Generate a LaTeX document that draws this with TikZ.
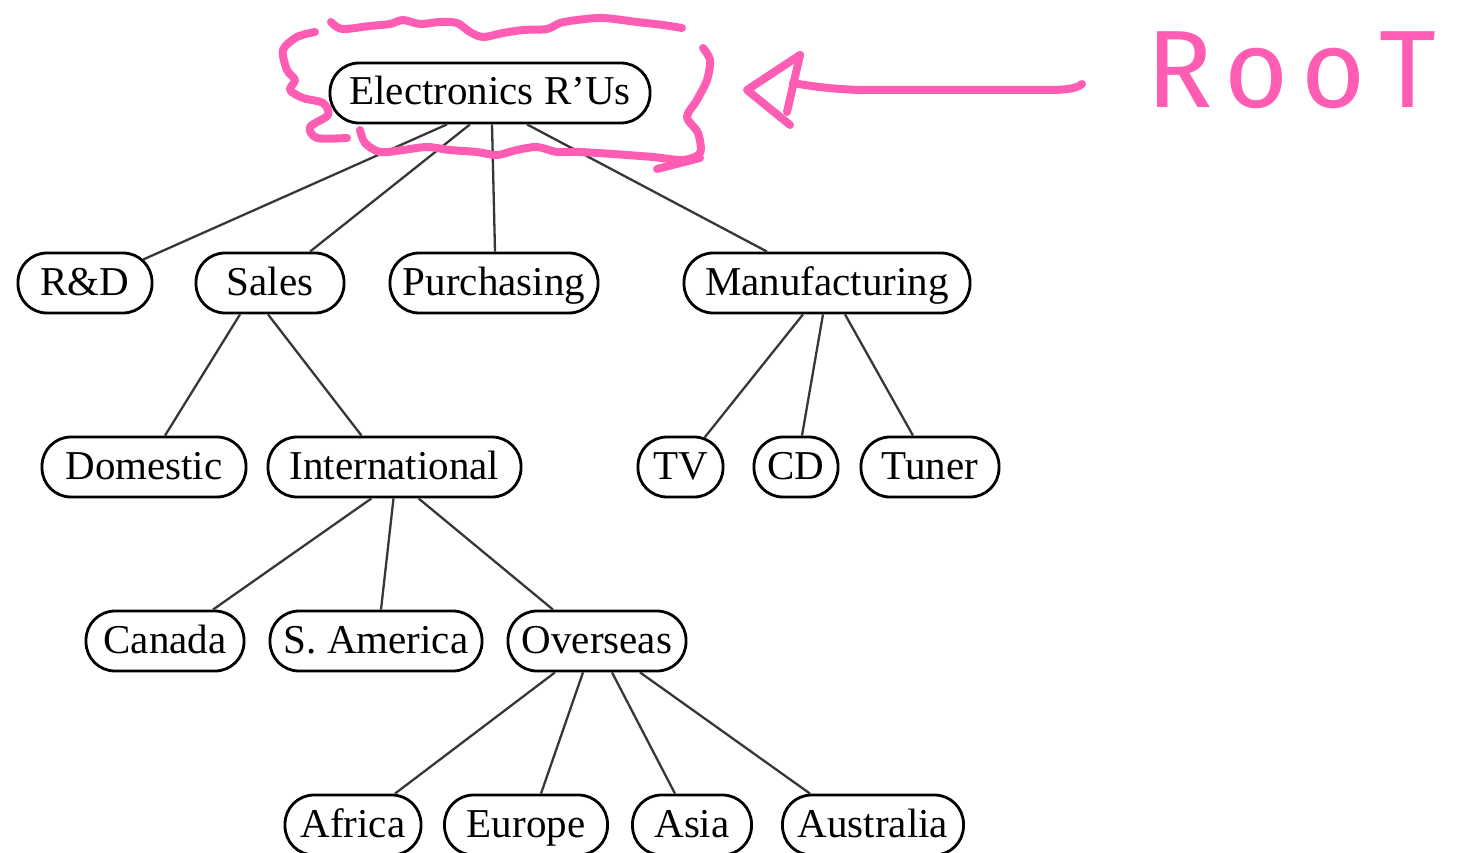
\documentclass[tikz,border=0pt]{standalone}
\usepackage{fontspec}
\setmainfont{Liberation Serif}
\newfontfamily\handfont{Fira Sans}
\definecolor{penpink}{RGB}{255,92,180}
\definecolor{edgegray}{RGB}{55,55,55}
\begin{document}
\begin{tikzpicture}[x=1pt,y=-1pt,
  box/.style={draw=black, line width=2.8pt, rounded corners=29pt, minimum height=60pt,
    inner xsep=0pt, inner ysep=0pt, text height=31pt, text depth=7pt,
    font=\fontsize{41}{41}\selectfont},
  edge/.style={draw=edgegray, line width=2.3pt},
  pen/.style={draw=penpink, line width=8pt, line cap=round, line join=round}]
\useasboundingbox (0,0) rectangle (1457,853);

% nodes
\node[box, minimum width=320pt] (root) at (490,93) {Electronics R'Us};
\node[box, minimum width=134pt] (rd) at (85,283) {R\&D};
\node[box, minimum width=148pt] (sales) at (270,283) {Sales};
\node[box, minimum width=208pt] (purch) at (494,283) {Purchasing};
\node[box, minimum width=286pt] (manu) at (827,283) {Manufacturing};
\node[box, minimum width=204pt] (dom) at (144,467) {Domestic};
\node[box, minimum width=253pt] (intl) at (394.5,467) {International};
\node[box, minimum width=85pt] (tv) at (680.5,467) {TV};
\node[box, minimum width=84pt] (cd) at (796,467) {CD};
\node[box, minimum width=138pt] (tuner) at (930,467) {Tuner};
\node[box, minimum width=158pt] (canada) at (165,641) {Canada};
\node[box, minimum width=212pt] (sam) at (376,641) {S. America};
\node[box, minimum width=178pt] (over) at (597,641) {Overseas};
\node[box, minimum width=136pt] (africa) at (353,825) {Africa};
\node[box, minimum width=163pt] (europe) at (526,825) {Europe};
\node[box, minimum width=119pt] (asia) at (692,825) {Asia};
\node[box, minimum width=181pt] (austr) at (873,825) {Australia};

% edges
\draw[edge] ([xshift=-43pt]root.south) -- ([xshift=58pt,yshift=-8pt]rd.north);
\draw[edge] ([xshift=-20pt]root.south) -- ([xshift=40pt]sales.north);
\draw[edge] ([xshift=2pt]root.south) -- ([xshift=1pt]purch.north);
\draw[edge] ([xshift=37pt]root.south) -- ([xshift=-60pt]manu.north);
\draw[edge] ([xshift=-30pt]sales.south) -- ([xshift=21pt]dom.north);
\draw[edge] ([xshift=-2pt]sales.south) -- ([xshift=-33pt]intl.north);
\draw[edge] ([xshift=-24pt]manu.south) -- ([xshift=24pt,yshift=-2pt]tv.north);
\draw[edge] ([xshift=-4pt]manu.south) -- ([xshift=6pt]cd.north);
\draw[edge] ([xshift=18pt]manu.south) -- ([xshift=-17pt]tuner.north);
\draw[edge] ([xshift=-23pt]intl.south) -- ([xshift=48pt]canada.north);
\draw[edge] ([xshift=-1pt]intl.south) -- ([xshift=5pt]sam.north);
\draw[edge] ([xshift=24pt]intl.south) -- ([xshift=-44pt]over.north);
\draw[edge] ([xshift=-42pt]over.south) -- ([xshift=42pt]africa.north);
\draw[edge] ([xshift=-14pt]over.south) -- ([xshift=15pt]europe.north);
\draw[edge] ([xshift=15pt]over.south) -- ([xshift=-17pt]asia.north);
\draw[edge] ([xshift=43pt]over.south) -- ([xshift=-63pt]austr.north);

% pink scribble around the root
\draw[pen] plot[smooth, tension=0.5] coordinates {(331,22) (342,29) (370,26) (390,24) (403,20) (420,24) (440,22) (457,23) (470,32) (483,37) (503,33) (523,30) (547,29) (560,23) (577,20) (603,18) (637,22) (663,25) (682,28)};
\draw[pen] plot[smooth, tension=0.5] coordinates {(315,32) (297,37) (283,50) (287,70) (295,80) (290,90) (303,98) (323,103) (328,115) (310,127) (317,138) (347,138)};
\draw[pen] plot[smooth, tension=0.5] coordinates {(360,130) (365,143) (380,152) (403,150) (427,147) (450,150) (477,152) (497,155) (517,150) (537,147) (557,152) (580,152) (613,154) (653,157) (683,160) (700,153) (698,133) (687,117) (697,100) (707,80) (710,60) (703,48)};
\draw[pen] (657,169) -- (700,158);

% pink arrow
\coordinate (arrowtail) at (1082,84);
\draw[pen] (arrowtail) .. controls (1075,90) and (1060,90) .. (1040,90) -- (860,90) .. controls (830,89) and (810,86) .. (793,83);
\draw[pen] (800,55) -- (747,90) -- (790,125);
\draw[pen] (800,55) -- (787,112);

% handwritten label
\node[anchor=base west, inner sep=0pt, text=penpink,
  font=\handfont\fontsize{110}{110}\selectfont\addfontfeature{LetterSpace=12}]
  (label) at (1146,108) {RooT};
\end{tikzpicture}
\end{document}
